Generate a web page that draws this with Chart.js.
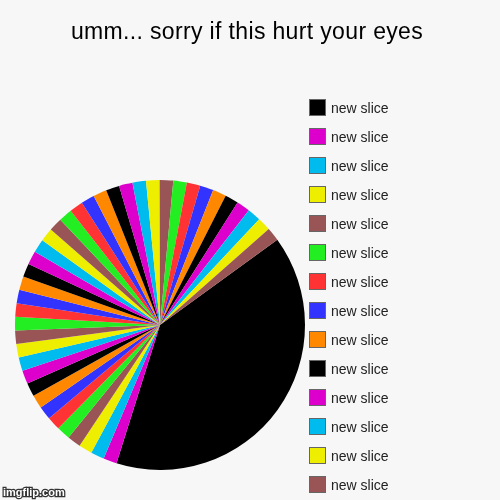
<!DOCTYPE html>
<html>
<head>
<meta charset="utf-8">
<script src="https://cdn.jsdelivr.net/npm/chart.js@4.4.1/dist/chart.umd.min.js"></script>
<style>
    html, body { margin: 0; padding: 0; background: #f7f7f7; }
    #wrap { position: relative; width: 500px; height: 500px; }
</style>
</head>
<body>
<div id="wrap"><canvas id="pieChart" width="500" height="500"></canvas></div>
<script>
// --- Dữ liệu biểu đồ ---
const chartTitle = 'umm... sorry if this hurt your eyes';

// 41 lát: lát đầu tiên là lát đen lớn, 40 lát nhỏ bằng nhau
const sliceLabels = [
    'new slice', 'new slice', 'new slice', 'new slice', 'new slice', 'new slice', 'new slice',
    'new slice', 'new slice', 'new slice', 'new slice', 'new slice', 'new slice', 'new slice',
    'new slice', 'new slice', 'new slice', 'new slice', 'new slice', 'new slice', 'new slice',
    'new slice', 'new slice', 'new slice', 'new slice', 'new slice', 'new slice', 'new slice',
    'new slice', 'new slice', 'new slice', 'new slice', 'new slice', 'new slice', 'new slice',
    'new slice', 'new slice', 'new slice', 'new slice', 'new slice', 'new slice'
];
const sliceValues = [
    26.5,
    1, 1, 1, 1, 1, 1, 1, 1, 1, 1,
    1, 1, 1, 1, 1, 1, 1, 1, 1, 1,
    1, 1, 1, 1, 1, 1, 1, 1, 1, 1,
    1, 1, 1, 1, 1, 1, 1, 1, 1, 1
];

// Bảng màu lặp lại (đen, hồng tím, xanh lơ, vàng, nâu, xanh lá, đỏ, xanh dương, cam)
const palette = ['#000000', '#dd00cc', '#00bbee', '#eeee00', '#995555', '#22ee22', '#ff3333', '#3333ff', '#ff8800'];
const legendCount = 14; // chú thích chỉ hiện 14 mục đầu

const sliceColors = sliceValues.map((v, i) => palette[i % palette.length]);

const FONT = 'Arial, "Liberation Sans", sans-serif';

// Plugin vẽ tiêu đề, chú thích bên phải và watermark
const sideLegend = {
    id: 'sideLegend',
    afterDraw(chart) {
        const ctx = chart.ctx;
        ctx.save();

        // tiêu đề (vẽ tay để không bị co lại theo vùng biểu đồ)
        ctx.font = '23px ' + FONT;
        ctx.fillStyle = '#000000';
        ctx.textAlign = 'center';
        ctx.textBaseline = 'alphabetic';
        if ('letterSpacing' in ctx) ctx.letterSpacing = '0.35px';
        ctx.fillText(chartTitle, 247, 39);
        if ('letterSpacing' in ctx) ctx.letterSpacing = '0px';

        // chú thích
        const items = Chart.overrides.doughnut.plugins.legend.labels.generateLabels(chart).slice(0, legendCount);
        ctx.textAlign = 'left';
        items.forEach((item, i) => {
            const y = 99 + i * 29;
            ctx.fillStyle = item.fillStyle;
            ctx.fillRect(309, y, 16, 16);
            ctx.strokeStyle = '#666666';
            ctx.lineWidth = 1;
            ctx.strokeRect(309.5, y + 0.5, 16, 16);
            ctx.fillStyle = '#222222';
            ctx.font = '14px ' + FONT;
            ctx.fillText(item.text, 331, y + 14);
        });

        // watermark
        ctx.font = 'bold 11px ' + FONT;
        ctx.lineWidth = 2.5;
        ctx.strokeStyle = '#333333';
        ctx.strokeText('imgflip.com', 3, 496);
        ctx.fillStyle = '#ffffff';
        ctx.fillText('imgflip.com', 3, 496);
        ctx.restore();
    }
};

function renderPie() {
    const ctx = document.getElementById('pieChart').getContext('2d');
    return new Chart(ctx, {
        type: 'pie',
        data: {
            labels: sliceLabels,
            datasets: [{
                data: sliceValues,
                backgroundColor: sliceColors,
                borderWidth: 0,
                hoverOffset: 0
            }]
        },
        options: {
            responsive: false,
            animation: false,
            devicePixelRatio: 1,
            rotation: 54,
            layout: { padding: { left: 15, right: 195, top: 180, bottom: 30 } },
            plugins: {
                legend: { display: false },
                tooltip: { enabled: false },
                title: { display: false }
            }
        },
        plugins: [sideLegend]
    });
}

renderPie();
</script>
</body>
</html>
